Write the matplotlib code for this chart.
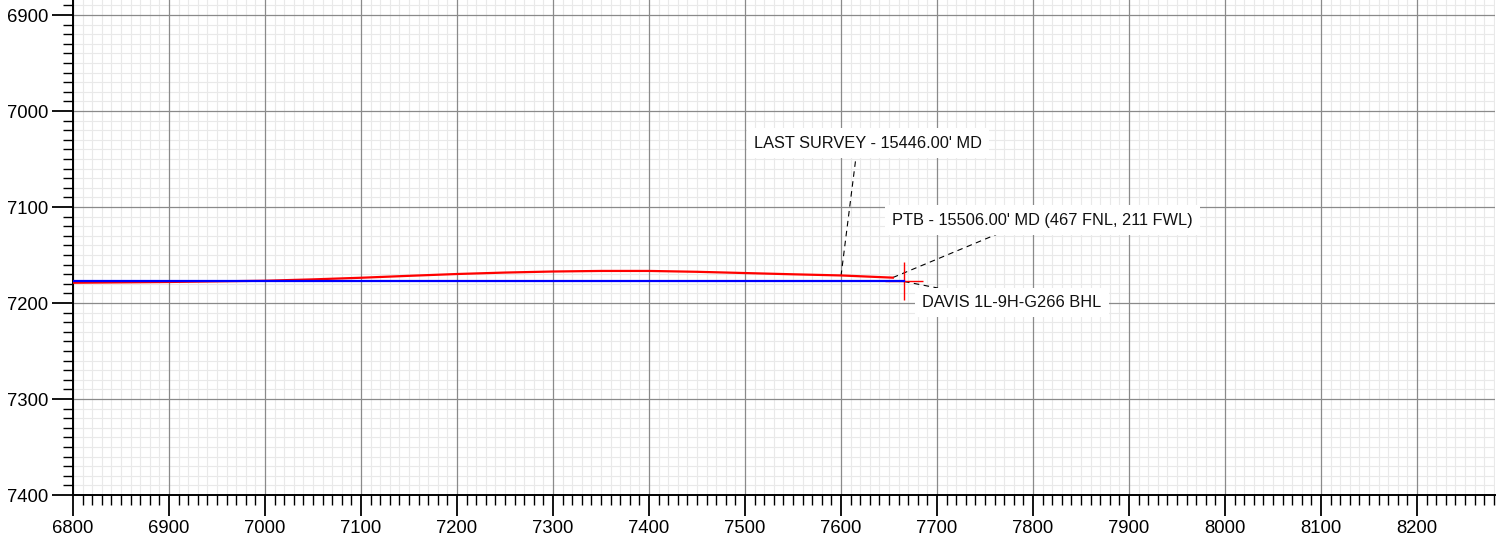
import matplotlib
matplotlib.use("Agg")
import matplotlib.pyplot as plt
from matplotlib.ticker import MultipleLocator

plt.rcParams['font.family'] = ['Liberation Sans', 'DejaVu Sans']

# Planned well path (blue)
plan_x = [6800, 7665.6]
plan_y = [7177.6, 7177.6]

# Actual survey path (red)
actual_x = [6800, 6900, 7000, 7050, 7100, 7150, 7200, 7250, 7300, 7350, 7400, 7450, 7500, 7550, 7600, 7654]
actual_y = [7178.9, 7178.1, 7176.8, 7175.4, 7173.7, 7171.7, 7169.8, 7168.3, 7167.2, 7166.6, 7166.6, 7167.5, 7168.8, 7170.1, 7171.3, 7173.6]

# BHL target marker
bhl_x = 7665.6
bhl_y = 7177.6

# Annotations
ann_labels = ["LAST SURVEY - 15446.00' MD",
              "PTB - 15506.00' MD (467 FNL, 211 FWL)",
              "DAVIS 1L-9H-G266 BHL"]
ann_px = [7600, 7654, 7665.6]
ann_py = [7171.9, 7173.5, 7177.6]
ann_lx = [7615.6, 7765.6, 7701]
ann_ly = [7048, 7127, 7184.4]
ann_tx = [7628, 7810, 7778]
ann_ty = [7033.5, 7113.6, 7199.5]

W, H = 1509, 539
fig = plt.figure(figsize=(W / 100, H / 100), dpi=100)
ax = fig.add_axes([73 / W, (H - 495) / H, (1495 - 73) / W, 495 / H])

ax.set_xlim(6800, 8281.25)
ax.set_ylim(7400, 7400 - 495 / 0.96)

ax.xaxis.set_major_locator(MultipleLocator(100))
ax.xaxis.set_minor_locator(MultipleLocator(10))
ax.yaxis.set_major_locator(MultipleLocator(100))
ax.yaxis.set_minor_locator(MultipleLocator(10))

# minor grid through the axes; major grid drawn on top of it
ax.grid(which='minor', color='#e9e9e9', linewidth=0.8)
ax.set_axisbelow(True)
x0, x1 = ax.get_xlim()
y1, y0 = ax.get_ylim()
for v in ax.get_xticks():
    if x0 <= v <= x1:
        ax.axvline(v, color='#8a8a8a', linewidth=0.9, zorder=1)
for v in ax.get_yticks():
    if y0 <= v <= y1:
        ax.axhline(v, color='#8a8a8a', linewidth=0.9, zorder=1)

for s in ['top', 'right']:
    ax.spines[s].set_visible(False)
for s in ['left', 'bottom']:
    ax.spines[s].set_linewidth(1.4)
    ax.spines[s].set_color('black')
    ax.spines[s].set_zorder(2.5)

ax.tick_params(which='major', direction='out', length=15, width=1.3, labelsize=13.3, pad=3)
ax.tick_params(which='minor', direction='out', length=7.5, width=1.0)

# annotation dashed lines
for i in range(len(ann_labels)):
    ax.plot([ann_px[i], ann_lx[i]], [ann_py[i], ann_ly[i]], color='black',
            linestyle=(0, (5, 4)), linewidth=0.8, zorder=3)

ax.plot(actual_x, actual_y, color='#ff0000', linewidth=1.6, zorder=4)
ax.plot([bhl_x], [bhl_y], marker='+', markersize=28, markeredgewidth=1.0,
        color='#ff0000', linestyle='none', zorder=4)
ax.plot(plan_x, plan_y, color='#0000ff', linewidth=1.6, zorder=5)

for i in range(len(ann_labels)):
    ax.text(ann_tx[i], ann_ty[i], ann_labels[i], fontsize=11.8, ha='center', va='center',
            color='#111111', zorder=6,
            bbox=dict(boxstyle='square,pad=0.45', facecolor='white', edgecolor='none'))

fig.savefig('out.png', dpi=100)
